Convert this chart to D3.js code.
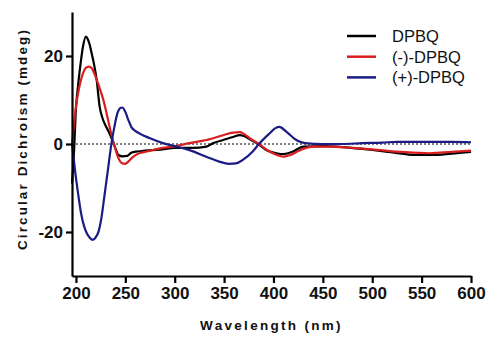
<!DOCTYPE html>
<html>
<head>
<meta charset="utf-8">
<script src="https://cdn.jsdelivr.net/npm/d3@7"></script>
<style>
  body { margin: 0; background: #fff; }
  text { font-family: "Liberation Sans", Arial, sans-serif; fill: #111; }
</style>
</head>
<body>
<div id="chart"></div>
<script>
var svgWidth = 500;
var svgHeight = 341;

var margin = { top: 12, right: 29, bottom: 65, left: 72 };
var width = svgWidth - margin.left - margin.right;
var height = svgHeight - margin.top - margin.bottom;

// series (wavelength nm, CD mdeg)
var dpbqNm = [196,198,200,202,204,207,210,212,214,216,218,221,224,227,230,234,237,240,243,247,252,256,262,270,285,300,318,332,339,349,359,366,370,376,383,393,403,410,420,430,450,470,490,510,530,545,560,580,600];
var dpbqCd = [-9,-2,8,13,17,22,24.4,23.8,22.5,20.5,18.5,14.5,8.5,5.8,4.2,2.4,0.8,-1,-2.5,-2.8,-2.7,-2.0,-1.7,-1.5,-1.3,-0.9,-0.9,-0.6,0.2,0.9,1.6,2.0,1.8,1.1,0.2,-1.4,-2.1,-2.3,-1.7,-0.6,-0.5,-0.7,-1.1,-1.6,-2.2,-2.5,-2.5,-2.2,-1.8];

var minusNm = [196,198,200,203,207,210,213,216,219,222,225,228,231,234,237,240,243,247,250,253,257,262,272,285,298,315,332,349,359,366,370,376,384,396,405,410,417,427,440,457,480,508,530,558,580,600];
var minusCd = [0,4.5,8.5,12.5,16,17.3,17.6,17.2,15.8,14,12,9.8,7,4,1.2,-1.2,-3.2,-4.4,-4.5,-4,-3.1,-2.3,-1.7,-1.0,-0.6,0.2,0.9,2.0,2.6,2.7,2.3,1.3,0.2,-1.7,-2.6,-2.9,-2.5,-1.4,-0.6,-0.6,-0.9,-1.4,-1.8,-2.1,-1.8,-1.5];

var plusNm = [196,199,202,205,208,211,214,217,220,223,226,229,232,236,239,242,245,247,250,253,256,260,265,275,288,302,315,332,345,355,362,369,379,386,396,402,406,413,423,432,450,470,490,510,525,558,580,600];
var plusCd = [0.2,-5.9,-11,-15.5,-18.5,-20.3,-21.3,-21.8,-21.2,-19.8,-16.5,-11.5,-6.5,0.2,4,7,8.2,8.3,7.3,5.5,3.9,3,2.3,1.3,0.2,-0.6,-1.4,-2.9,-4,-4.5,-4.4,-3.6,-1.7,0.2,2.4,3.6,3.9,2.8,0.9,0.2,0,0,0.2,0.3,0.5,0.5,0.5,0.4];

var seriesNames = ["DPBQ", "(-)-DPBQ", "(+)-DPBQ"];
var seriesColors = ["#000000", "#d81e1e", "#1b1b85"];

var xTicks = [200, 250, 300, 350, 400, 450, 500, 550, 600];
var yTicks = [-20, 0, 20];

var seriesData = [
  d3.zip(dpbqNm, dpbqCd),
  d3.zip(minusNm, minusCd),
  d3.zip(plusNm, plusCd)
];

var svg = d3.select("#chart")
  .append("svg")
  .attr("width", svgWidth)
  .attr("height", svgHeight);

var chartGroup = svg.append("g")
  .attr("transform", `translate(${margin.left}, ${margin.top})`);

var xScale = d3.scaleLinear().domain([196, 600]).range([0, width]);
var yScale = d3.scaleLinear().domain([-30, 30]).range([height, 0]);

// dotted zero line
chartGroup.append("line")
  .attr("x1", 0)
  .attr("x2", width)
  .attr("y1", yScale(0))
  .attr("y2", yScale(0))
  .attr("stroke", "#000")
  .attr("stroke-width", 1)
  .attr("stroke-dasharray", "2,2");

// lines
var line = d3.line()
  .x(d => xScale(d[0]))
  .y(d => yScale(d[1]))
  .curve(d3.curveMonotoneX);

chartGroup.selectAll(".series")
  .data(seriesData)
  .enter()
  .append("path")
  .attr("class", "series")
  .attr("d", line)
  .attr("fill", "none")
  .attr("stroke", (d, i) => seriesColors[i])
  .attr("stroke-width", 2.2)
  .attr("stroke-linejoin", "round");

// axes (plain hyphen for negatives, like the original)
var bottomAxis = d3.axisBottom(xScale).tickValues(xTicks).tickSize(7).tickPadding(4).tickSizeOuter(0)
  .tickFormat(d => String(d));
var leftAxis = d3.axisLeft(yScale).tickValues(yTicks).tickSize(6).tickPadding(3).tickSizeOuter(0)
  .tickFormat(d => String(d));

var xAxis = chartGroup.append("g")
  .attr("transform", `translate(0, ${height})`)
  .call(bottomAxis);

var yAxis = chartGroup.append("g")
  .call(leftAxis);

[xAxis, yAxis].forEach(function(ax) {
  ax.select(".domain").attr("stroke", "#000").attr("stroke-width", 2.2);
  ax.selectAll(".tick line").attr("stroke", "#000").attr("stroke-width", 2.2);
  ax.selectAll(".tick text")
    .style("font-family", "'Liberation Sans', Arial, sans-serif")
    .style("font-size", "17px")
    .style("font-weight", "bold")
    .attr("fill", "#111");
});

// axis titles
svg.append("text")
  .attr("x", margin.left + width / 2)
  .attr("y", 330)
  .attr("text-anchor", "middle")
  .style("font-size", "13.5px")
  .style("font-weight", "bold")
  .style("letter-spacing", "2.3px")
  .text("Wavelength (nm)");

svg.append("text")
  .attr("transform", "translate(27, 139) rotate(-90)")
  .attr("text-anchor", "middle")
  .style("font-size", "13.5px")
  .style("font-weight", "bold")
  .style("letter-spacing", "2.1px")
  .text("Circular Dichroism (mdeg)");

// legend
var legend = svg.append("g")
  .attr("transform", "translate(347, 36)");

seriesNames.forEach(function(name, i) {
  var row = legend.append("g").attr("transform", `translate(0, ${i * 20.7})`);
  row.append("line")
    .attr("x1", 0).attr("x2", 29)
    .attr("y1", 0).attr("y2", 0)
    .attr("stroke", seriesColors[i])
    .attr("stroke-width", 2.5);
  row.append("text")
    .attr("x", 45)
    .attr("y", 6)
    .style("font-size", "16.5px")
    .text(name);
});
</script>
</body>
</html>
